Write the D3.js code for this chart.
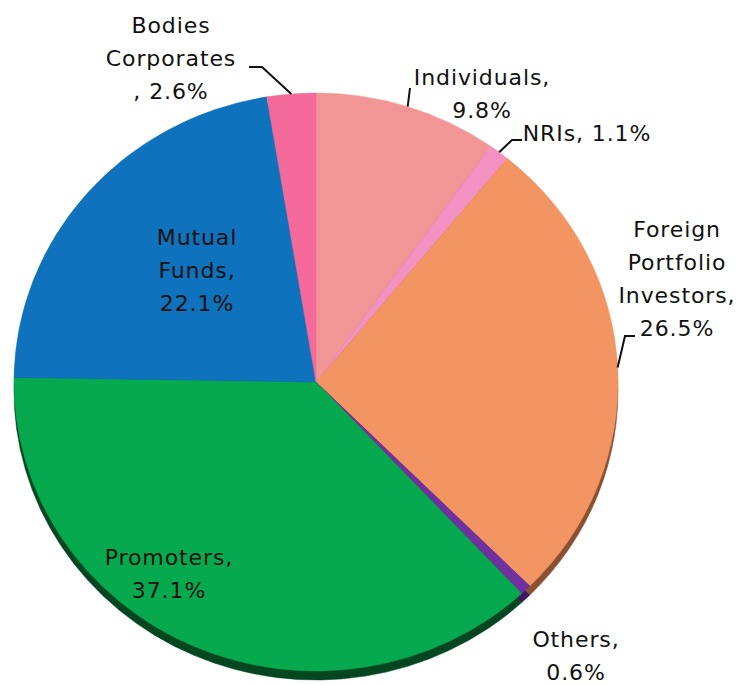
<!DOCTYPE html>
<html>
<head>
<meta charset="utf-8">
<script src="https://cdn.jsdelivr.net/npm/d3@7"></script>
<style>
  body { margin: 0; background: #fff; }
  text { font-family: "Century Gothic", "DejaVu Sans", sans-serif; font-size: 22px; letter-spacing: 0.9px; fill: #111; }
</style>
</head>
<body>
<div id="chart"></div>
<script>
/* data, clockwise from 12 o'clock */
const categories = ["Individuals", "NRIs", "Foreign Portfolio Investors", "Others", "Promoters", "Mutual Funds", "Bodies Corporates"];
const shares = [9.8, 1.1, 26.5, 0.6, 37.1, 22.1, 2.6];
const colors = ["#F29595", "#F291C2", "#F29563", "#7030A0", "#07A94F", "#0F72BD", "#F46A9B"];
const darkColors = ["#8a4f4f", "#8a4f6e", "#8a5030", "#3d1860", "#03461f", "#083f6a", "#8a3556"];
const labelLines = [
  ["Individuals,", "9.8%"],
  ["NRIs, 1.1%"],
  ["Foreign", "Portfolio", "Investors,", "26.5%"],
  ["Others,", "0.6%"],
  ["Promoters,", "37.1%"],
  ["Mutual", "Funds,", "22.1%"],
  ["Bodies", "Corporates", ", 2.6%"]
];

/* label layout: centre x, first baseline, leader elbow (null = none) */
const labelPos = [
  { x: 482, y: 85,  elbow: [[410, 88]] },
  { x: 587, y: 141, elbow: [[522, 140], [512, 140]] },
  { x: 677, y: 237, elbow: [[635, 336], [625, 336]] },
  { x: 576, y: 647, elbow: null },
  { x: 169, y: 565, elbow: null },
  { x: 197, y: 245, elbow: null },
  { x: 171, y: 33,  elbow: [[249, 67], [262, 67]] }
];
const lineGap = 33;

const W = 738, H = 685;
const cx = 316, cy = 382, rx = 302, ry = 289, depth = 9;

const svg = d3.select("#chart").append("svg")
  .attr("width", W).attr("height", H);

const data = categories.map((c, i) => ({ name: c, value: shares[i], i: i }));

const pie = d3.pie().sort(null).value(d => d.value);
const arcs = pie(data);
const arc = d3.arc().innerRadius(0).outerRadius(ry);

/* side / shadow of the disc */
svg.append("g")
  .attr("transform", `translate(${cx},${cy + depth}) scale(${rx / ry},1)`)
  .selectAll("path")
  .data(arcs)
  .enter()
  .append("path")
  .attr("d", arc)
  .attr("fill", d => darkColors[d.data.i])
  .attr("stroke", d => darkColors[d.data.i])
  .attr("stroke-width", 0.5);

/* top face */
svg.append("g")
  .attr("transform", `translate(${cx},${cy}) scale(${rx / ry},1)`)
  .selectAll("path")
  .data(arcs)
  .enter()
  .append("path")
  .attr("d", arc)
  .attr("fill", d => colors[d.data.i])
  .attr("stroke", d => colors[d.data.i])
  .attr("stroke-width", 0.5);

/* leader lines */
const edgePoint = function(d) {
  const a = (d.startAngle + d.endAngle) / 2;
  return [cx + rx * Math.sin(a), cy - ry * Math.cos(a)];
};
const line = d3.line();
arcs.forEach(function(d) {
  const p = labelPos[d.data.i];
  if (!p.elbow) return;
  svg.append("path")
    .attr("d", line(p.elbow.concat([edgePoint(d)])))
    .attr("fill", "none")
    .attr("stroke", "#111")
    .attr("stroke-width", 2);
});

/* labels */
const labels = svg.append("g")
  .selectAll("text")
  .data(data)
  .enter()
  .append("text")
  .attr("text-anchor", "middle")
  .attr("x", d => labelPos[d.i].x)
  .attr("y", d => labelPos[d.i].y);

labels.selectAll("tspan")
  .data(d => labelLines[d.i].map((t, k) => ({ t: t, k: k, x: labelPos[d.i].x, y: labelPos[d.i].y })))
  .enter()
  .append("tspan")
  .attr("x", d => d.x)
  .attr("y", d => d.y + d.k * lineGap)
  .text(d => d.t);
</script>
</body>
</html>
